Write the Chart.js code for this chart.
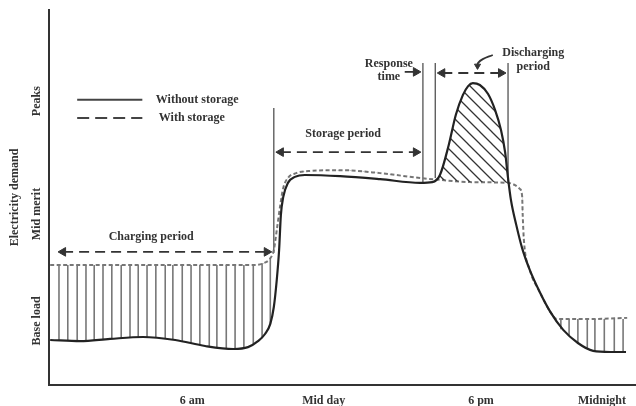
<!DOCTYPE html>
<html>
<head>
<meta charset="utf-8">
<script src="https://cdn.jsdelivr.net/npm/chart.js@4.4.1/dist/chart.umd.min.js"></script>
<style>
  html, body { margin: 0; padding: 0; background: #fff; }
  #wrap { width: 636px; height: 406px; position: relative; }
</style>
</head>
<body>
<div id="wrap"><canvas id="chart"></canvas></div>
<script>
// time runs 0..100 across the day, demand 0..100 up the axis
const xTickValues = [24.4, 46.8, 73.6, 94.2];
const xTickLabels = ["6 am", "Mid day", "6 pm", "Midnight"];
const yTickValues = [17.1, 45.6, 75.7];
const yTickLabels = ["Base load", "Mid merit", "Peaks"];

const withoutStorageX = [0.2, 5.3, 10.4, 16.0, 21.5, 26.6, 31.4, 33.9, 35.6, 36.8, 37.7, 38.3, 38.8, 39.2, 39.5, 39.9, 40.7, 41.9, 43.6, 49.6, 56.4, 63.2, 65.3, 66.6, 68.1, 69.3, 70.5, 71.4, 72.2, 73.4, 74.8, 76.0, 77.0, 77.7, 78.2, 78.7, 79.6, 80.6, 81.9, 83.6, 85.4, 87.6, 90.1, 92.7, 95.6, 98.3];
const withoutStorageY = [12.0, 11.7, 12.3, 12.8, 12.0, 10.4, 9.6, 10.1, 11.7, 13.6, 16.3, 20.8, 28.0, 36.0, 45.3, 50.1, 53.9, 55.5, 56.0, 55.7, 54.9, 53.9, 54.1, 56.0, 64.0, 72.0, 77.3, 79.7, 80.5, 80.0, 77.6, 73.3, 68.0, 62.1, 55.2, 49.3, 42.7, 36.5, 30.7, 24.8, 19.5, 14.7, 11.2, 9.1, 8.8, 8.8];

const withStorageX = [0.2, 17.2, 35.1, 36.6, 37.6, 38.3, 38.8, 39.4, 39.9, 40.7, 42.1, 44.5, 49.6, 56.4, 63.2, 66.6, 71.7, 78.2, 79.4, 80.2, 80.6, 80.7, 80.9, 81.9, 83.6, 85.4, 86.5, 92.2, 98.5];
const withStorageY = [32.0, 32.0, 32.0, 32.5, 33.6, 36.0, 41.3, 48.0, 52.5, 55.2, 56.5, 57.1, 57.3, 56.5, 55.2, 54.7, 54.1, 53.9, 53.3, 52.3, 50.4, 45.3, 38.7, 30.7, 24.8, 19.5, 17.6, 17.6, 17.9];

// vertical hatch strokes (charging at night / early morning, and late evening)
const chargeHatchX = [1.7, 3.2, 4.8, 6.3, 7.7, 9.2, 10.7, 12.3, 13.8, 15.2, 16.7, 18.2, 19.8, 21.1, 22.7, 24.2, 25.7, 27.3, 28.6, 30.2, 31.7, 33.2, 34.8, 36.3, 37.7];
const chargeHatchLow = [12.0, 11.9, 11.9, 12.0, 12.0, 12.1, 12.3, 12.5, 12.7, 12.8, 12.8, 12.7, 12.4, 12.1, 11.7, 11.3, 10.9, 10.4, 10.0, 9.7, 9.6, 9.9, 10.9, 12.5, 16.3];
const chargeHatchHigh = [32.0, 32.0, 32.0, 32.0, 32.0, 32.0, 32.0, 32.0, 32.0, 32.0, 32.0, 32.0, 32.0, 32.0, 32.0, 32.0, 32.0, 32.0, 32.0, 32.0, 32.0, 32.0, 32.0, 32.5, 33.6];
const nightHatchX = [87.2, 88.6, 90.1, 91.7, 93.0, 94.6, 96.3, 97.8];
const nightHatchLow = [14.9, 13.3, 11.2, 9.9, 9.1, 8.9, 8.8, 8.8];
const nightHatchHigh = [17.6, 17.6, 17.6, 17.6, 17.6, 17.6, 17.6, 17.6];

// period markers
const markerX = [38.3, 63.7, 65.8, 78.2];
const markerTop = [73.9, 85.9, 85.9, 85.9];
const markerBottom = [35.2, 54.1, 55.2, 54.1];

// arrows
const chargingArrowX = [2.4, 37.1];
const chargingArrowY = [35.5, 35.5];
const storageArrowX = [39.5, 62.5];
const storageArrowY = [62.1, 62.1];
const responseArrowX = [60.6, 62.5];
const responseArrowY = [83.5, 83.5];
const dischargingArrowX = [67.0, 77.0];
const dischargingArrowY = [83.2, 83.2];
const leaderX = [75.6, 73.9, 73.1, 73.0];
const leaderY = [88.0, 86.9, 85.9, 85.1];

// legend
const legendLabels = ["Without storage", "With storage"];
const legendSampleX = [4.8, 15.9];
const legendSampleY = [76.1, 71.2];
const legendTextX = [18.2, 18.7];

// text notes
const noteLabels = ["Charging period", "Storage period", "Response", "time", "Discharging", "period"];
const noteX = [17.4, 50.1, 57.9, 57.9, 82.5, 82.5];
const noteY = [39.5, 66.9, 85.6, 82.1, 88.5, 84.8];

const FONT = '"Liberation Serif", "Times New Roman", serif';
const INK = "#333";

function pts(xs, ys) {
  return xs.map((x, i) => ({ x, y: ys[i] }));
}

function makeHatch() {
  const c = document.createElement("canvas");
  c.width = 12;
  c.height = 12;
  const g = c.getContext("2d");
  g.strokeStyle = "#333";
  g.lineWidth = 1.3;
  g.beginPath();
  g.moveTo(-1, -1); g.lineTo(13, 13);
  g.moveTo(-1, 11); g.lineTo(1, 13);
  g.moveTo(11, -1); g.lineTo(13, 1);
  g.stroke();
  return g.createPattern(c, "repeat");
}

function plainLine(data, opts = {}) {
  return {
    type: "line",
    data,
    borderColor: opts.color ?? "#444",
    borderWidth: opts.width ?? 1.2,
    borderDash: opts.dash ?? [],
    pointRadius: 0,
    fill: false,
    tension: opts.tension ?? 0,
  };
}

function arrow(xs, ys, { dash = [10, 6], heads = [5, 5], rotation = [-90, 90], tension = 0 } = {}) {
  return {
    type: "line",
    data: pts(xs, ys),
    borderColor: INK,
    borderWidth: 1.8,
    borderDash: dash,
    tension,
    fill: false,
    pointStyle: "triangle",
    pointRadius: heads,
    pointRotation: rotation,
    pointBackgroundColor: INK,
    pointBorderColor: INK,
    pointBorderWidth: 1,
  };
}

function hatchBars(xs, lows, highs) {
  return {
    type: "bar",
    data: xs.map((x, i) => ({ x, y: [lows[i], highs[i]] })),
    backgroundColor: "#777",
    borderWidth: 0,
    grouped: false,
    maxBarThickness: 1.6,
  };
}

const textPlugin = {
  id: "diagramText",
  afterDraw(chart) {
    const { ctx, scales: { x, y } } = chart;
    ctx.save();
    ctx.fillStyle = INK;
    ctx.font = `bold 12px ${FONT}`;
    ctx.textBaseline = "middle";

    ctx.textAlign = "center";
    noteLabels.forEach((t, i) => {
      ctx.fillText(t, x.getPixelForValue(noteX[i]), y.getPixelForValue(noteY[i]));
    });

    ctx.textAlign = "left";
    legendLabels.forEach((t, i) => {
      ctx.fillText(t, x.getPixelForValue(legendTextX[i]), y.getPixelForValue(legendSampleY[i]));
    });

    // rotated y tick labels
    ctx.textAlign = "center";
    y.ticks.forEach((tick, i) => {
      ctx.save();
      ctx.translate(y.right - 12, y.getPixelForValue(tick.value));
      ctx.rotate(-Math.PI / 2);
      ctx.fillText(yTickLabels[i], 0, 0);
      ctx.restore();
    });
    ctx.restore();
  },
};

const datasets = [
  {
    type: "line",
    label: "Without storage",
    data: pts(withoutStorageX, withoutStorageY),
    borderColor: "#222",
    borderWidth: 2.2,
    pointRadius: 0,
    cubicInterpolationMode: "monotone",
    fill: { target: 1, above: makeHatch(), below: "rgba(0,0,0,0)" },
  },
  {
    type: "line",
    label: "With storage",
    data: pts(withStorageX, withStorageY),
    borderColor: "#777",
    borderWidth: 2,
    borderDash: [4, 2.5],
    pointRadius: 0,
    cubicInterpolationMode: "monotone",
    fill: false,
  },
  hatchBars(chargeHatchX, chargeHatchLow, chargeHatchHigh),
  hatchBars(nightHatchX, nightHatchLow, nightHatchHigh),
  ...markerX.map((mx, i) => plainLine([{ x: mx, y: markerBottom[i] }, { x: mx, y: markerTop[i] }])),
  arrow(chargingArrowX, chargingArrowY),
  arrow(storageArrowX, storageArrowY),
  arrow(responseArrowX, responseArrowY, { dash: [], heads: [0, 5] }),
  arrow(dischargingArrowX, dischargingArrowY),
  arrow(leaderX, leaderY, { dash: [], heads: [0, 0, 0, 3.5], rotation: [0, 0, 0, 180], tension: 0.4 }),
  plainLine(pts(legendSampleX, [legendSampleY[0], legendSampleY[0]]), { color: "#444", width: 2 }),
  plainLine(pts(legendSampleX, [legendSampleY[1], legendSampleY[1]]), { color: "#444", width: 2, dash: [12, 6] }),
];

new Chart(document.getElementById("chart"), {
  type: "line",
  data: { datasets },
  options: {
    responsive: true,
    maintainAspectRatio: false,
    animation: false,
    events: [],
    layout: { autoPadding: false, padding: { top: 10, right: 0, bottom: 0, left: 0 } },
    plugins: {
      legend: { display: false },
      tooltip: { enabled: false },
    },
    scales: {
      x: {
        type: "linear",
        min: 0,
        max: 100,
        offset: false,
        grid: { display: false },
        border: { display: true, color: INK, width: 2 },
        afterBuildTicks: (scale) => {
          scale.ticks = xTickValues.map((value) => ({ value }));
        },
        afterFit: (scale) => {
          scale.height = 21;
          scale.paddingLeft = 0;
          scale.paddingRight = 0;
        },
        ticks: {
          autoSkip: false,
          maxRotation: 0,
          padding: 1,
          color: INK,
          font: { family: FONT, size: 12, weight: "bold" },
          callback: (value, index) => xTickLabels[index],
        },
      },
      y: {
        type: "linear",
        min: 0,
        max: 100,
        grid: { display: false },
        border: { display: true, color: INK, width: 2 },
        afterBuildTicks: (scale) => {
          scale.ticks = yTickValues.map((value) => ({ value }));
        },
        afterFit: (scale) => {
          scale.width = 49;
          scale.paddingTop = 0;
          scale.paddingBottom = 0;
        },
        ticks: { display: false },
        title: {
          display: true,
          text: "Electricity demand",
          color: INK,
          padding: { top: 8, bottom: 0 },
          font: { family: FONT, size: 12, weight: "bold" },
        },
      },
    },
  },
  plugins: [textPlugin],
});
</script>
</body>
</html>
